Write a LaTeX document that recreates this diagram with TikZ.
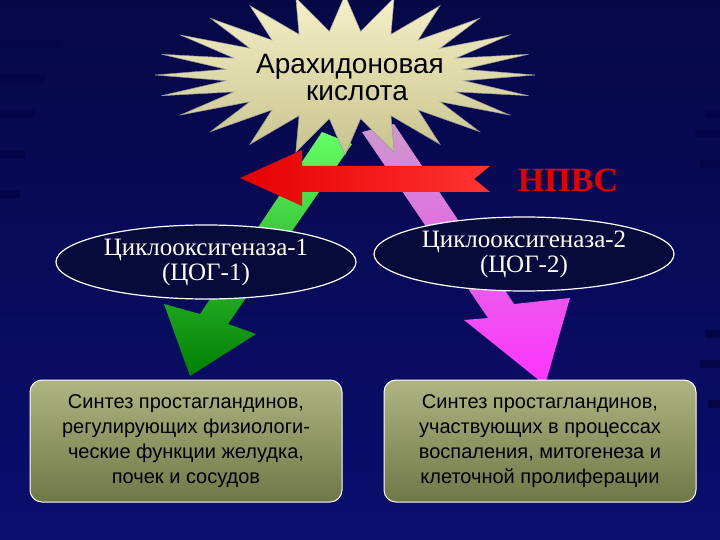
\documentclass[tikz,border=0pt]{standalone}
\usepackage{fontspec}
\setmainfont{Liberation Serif}
\newfontfamily\sansf{Liberation Sans}
\begin{document}
\begin{tikzpicture}[x=1pt,y=-1pt,
  ell/.style={ellipse,draw=white,line width=1.2pt,fill=ellfill,minimum width=300pt,minimum height=74pt,text=white,font=\fontsize{25}{25}\selectfont,align=center,inner sep=0pt},
  boxn/.style={draw=white,line width=1pt,rounded corners=12pt,top color=boxtop,bottom color=boxbot,minimum width=312pt,minimum height=122pt,text=black,font=\sansf\fontsize{20}{25}\selectfont,align=center}]
\usetikzlibrary{shapes.geometric}
\definecolor{bg1}{RGB}{6,8,70}
\definecolor{bg2}{RGB}{10,14,110}
\definecolor{ellfill}{RGB}{8,10,60}
\definecolor{boxtop}{RGB}{175,180,130}
\definecolor{boxbot}{RGB}{110,120,70}
\definecolor{startop}{RGB}{245,240,200}
\definecolor{starbot}{RGB}{200,195,140}
\useasboundingbox (0,0) rectangle (720,540);
\shade[top color=bg1,bottom color=bg2] (0,0) rectangle (720,540);
\foreach \y/\w in {40/60,75/45,110/35,150/25,190/20}{\fill[black!70!blue!40!bg1] (0,\y) rectangle (\w,\y+8);}
\foreach \y/\w in {110/15,130/25,160/20,330/15,360/20,400/12}{\fill[black!70!blue!40!bg1] (720-\w,\y) rectangle (720,\y+8);}
\shade[top color=green!60!white,bottom color=green!50!black]
 (322,132) -- (352,144) -- (228,324) -- (256,334) -- (190,376) -- (164,304) -- (200,314) -- cycle;
\shade[top color=violet!40!white,bottom color=magenta!80!white]
 (362,132) -- (394,124) -- (514,304) -- (570,298) -- (545,385) -- (464,320) -- (488,318) -- cycle;
\shade[top color=startop,bottom color=starbot,draw=black!40,line width=0.5pt]
 plot[samples at={0,...,47}] ({345+ (mod(\x,2)==0 ? 190 : 120)*cos(\x*7.5)}, {75+ (mod(\x,2)==0 ? 80 : 44)*sin(\x*7.5)}) -- cycle;
\node[font=\sansf\fontsize{28}{27}\selectfont,align=center,text=black] (star) at (350,78) {Арахидоновая\\\hspace*{14pt}кислота};
\shade[left color=red!90!black,right color=red!80!white]
 (240,178) -- (302,150) -- (302,166) -- (490,166) -- (474,179) -- (490,192) -- (302,192) -- (302,206) -- cycle;
\node[text=red!90!black,font=\bfseries\fontsize{34}{34}\selectfont] (npvs) at (568,180) {НПВС};
\node[ell] (c1) at (206,262) {Циклооксигеназа-1\\(ЦОГ-1)};
\node[ell] (c2) at (524,254) {Циклооксигеназа-2\\(ЦОГ-2)};
\node[boxn] (b1) at (186,441) {Синтез простагландинов,\\регулирующих физиологи-\\ческие функции желудка,\\почек и сосудов};
\node[boxn] (b2) at (540,441) {Синтез простагландинов,\\участвующих в процессах\\воспаления, митогенеза и\\клеточной пролиферации};
\end{tikzpicture}
\end{document}
